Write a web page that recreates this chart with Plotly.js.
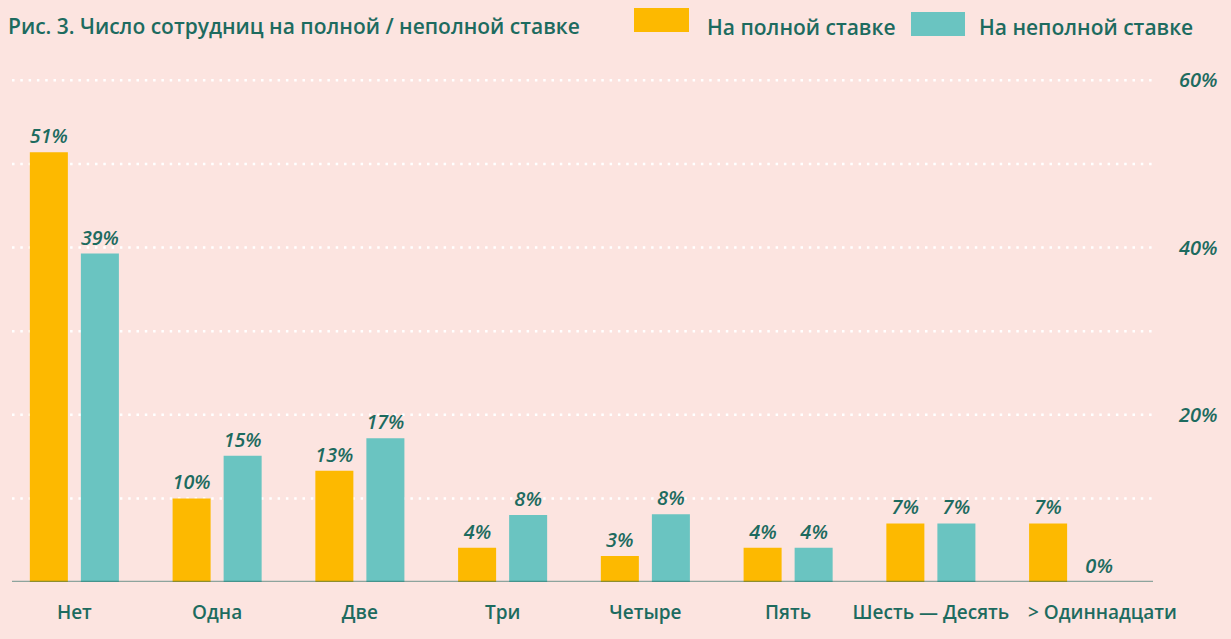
<!DOCTYPE html>
<html>
<head>
<meta charset="utf-8">
<script src="https://cdn.plot.ly/plotly-3.0.1.min.js"></script>
<style>
html,body{margin:0;padding:0;background:#fce4e0;}
#chart{width:1231px;height:639px;}
</style>
</head>
<body>
<div id="chart"></div>
<script>
const categories = ["Нет", "Одна", "Две", "Три", "Четыре", "Пять", "Шесть — Десять", "> Одиннадцати"];
const fullTime = [51.4, 10.0, 13.3, 4.1, 3.1, 4.1, 7.0, 7.0];
const partTime = [39.3, 15.1, 17.2, 8.0, 8.1, 4.1, 7.0, 0];
const fullTimeLabels = ["51%", "10%", "13%", "4%", "3%", "4%", "7%", "7%"];
const partTimeLabels = ["39%", "15%", "17%", "8%", "8%", "4%", "7%", "0%"];
const seriesNames = ["На полной ставке", "На неполной ставке"];
const yTickVals = [0, 10, 20, 30, 40, 50, 60];
const yTickText = ["", "", "20%", "", "40%", "", "60%"];
const chartTitle = "Рис. 3. Число сотрудниц на полной / неполной ставке";

const ORANGE = "#fdb900";
const TEAL = "#6ac4c1";
const GREEN = "#1d6b5f";
const BG = "#fce4e0";

// plot-area geometry (pixels) used for decoration placement
const W = 1231, H = 639;
const L = 3, R = 86, T = 72, B = 57;
const pw = W - L - R, ph = H - T - B;
const px = x => (x - L) / pw;
const py = y => (H - B - y) / ph;

const labelFont = {family: "Open Sans, sans-serif", size: 20, color: GREEN, style: "italic", weight: 600};
const catFont = {family: "Open Sans, sans-serif", size: 19, color: GREEN, weight: 600};

const traces = [
  {type: "bar", name: seriesNames[0], x: categories, y: fullTime, text: fullTimeLabels,
   textposition: "outside", textfont: labelFont, cliponaxis: false,
   marker: {color: ORANGE}, hoverinfo: "x+y"},
  {type: "bar", name: seriesNames[1], x: categories, y: partTime, text: partTimeLabels,
   textposition: "outside", textfont: labelFont, cliponaxis: false,
   marker: {color: TEAL}, hoverinfo: "x+y"}
];

const headFont = {family: "Open Sans, sans-serif", size: 21, color: GREEN, weight: 600};

const gridShapes = yTickVals.filter(v => v > 0).map(v => ({
  type: "line", xref: "paper", yref: "y", x0: px(12), x1: px(1155), y0: v, y1: v,
  layer: "below", line: {color: "#ffffff", width: 2.5, dash: "2.5px,5.8px"}
}));

// last category label is drawn shifted right (as in the original) to avoid overlap
const lastIdx = categories.length - 1;
const xTickText = categories.map((c, i) => i === lastIdx ? "" : c);

const layout = {
  width: W, height: H,
  paper_bgcolor: BG, plot_bgcolor: BG,
  margin: {l: L, r: R, t: T, b: B},
  showlegend: false,
  barmode: "group",
  bargap: 0.285,
  bargroupgap: 0.255,
  title: {text: chartTitle, font: headFont, xref: "container", yref: "container",
          x: 8 / W, xanchor: "left", y: 1 - 27 / H, yanchor: "middle"},
  xaxis: {
    type: "category",
    range: [-0.5, categories.length - 0.5], autorange: false,
    tickvals: categories, ticktext: xTickText,
    showgrid: false, zeroline: false, showline: false,
    ticks: "", ticklabelstandoff: 17, tickangle: 0,
    tickfont: catFont
  },
  yaxis: {
    range: [0, 61], autorange: false,
    side: "right",
    tickvals: yTickVals, ticktext: yTickText,
    showgrid: false, zeroline: false, showline: false, ticks: "",
    ticklabelstandoff: 33,
    tickfont: {family: "Open Sans, sans-serif", size: 20, color: GREEN, style: "italic", weight: 600}
  },
  shapes: gridShapes.concat([
    {type: "line", xref: "paper", yref: "y", x0: px(12), x1: px(1153), y0: 0, y1: 0,
     layer: "above", line: {color: "rgba(30,100,90,0.5)", width: 2.5}},
    {type: "rect", xref: "paper", yref: "paper", x0: px(634), x1: px(689), y0: py(32), y1: py(8),
     fillcolor: ORANGE, line: {width: 0}},
    {type: "rect", xref: "paper", yref: "paper", x0: px(911), x1: px(965), y0: py(36), y1: py(12),
     fillcolor: TEAL, line: {width: 0}}
  ]),
  annotations: [
    {xref: "paper", yref: "paper", x: px(705), y: py(27), xanchor: "left", yanchor: "middle",
     text: seriesNames[0], showarrow: false, font: headFont},
    {xref: "paper", yref: "paper", x: px(977), y: py(27), xanchor: "left", yanchor: "middle",
     text: seriesNames[1], showarrow: false, font: headFont},
    {xref: "x", yref: "y", x: categories[lastIdx], y: 0, xanchor: "center", yanchor: "middle",
     xshift: 29, yshift: -30, text: categories[lastIdx], showarrow: false, font: catFont}
  ]
};

Plotly.newPlot("chart", traces, layout, {displayModeBar: false, staticPlot: true});
</script>
</body>
</html>
